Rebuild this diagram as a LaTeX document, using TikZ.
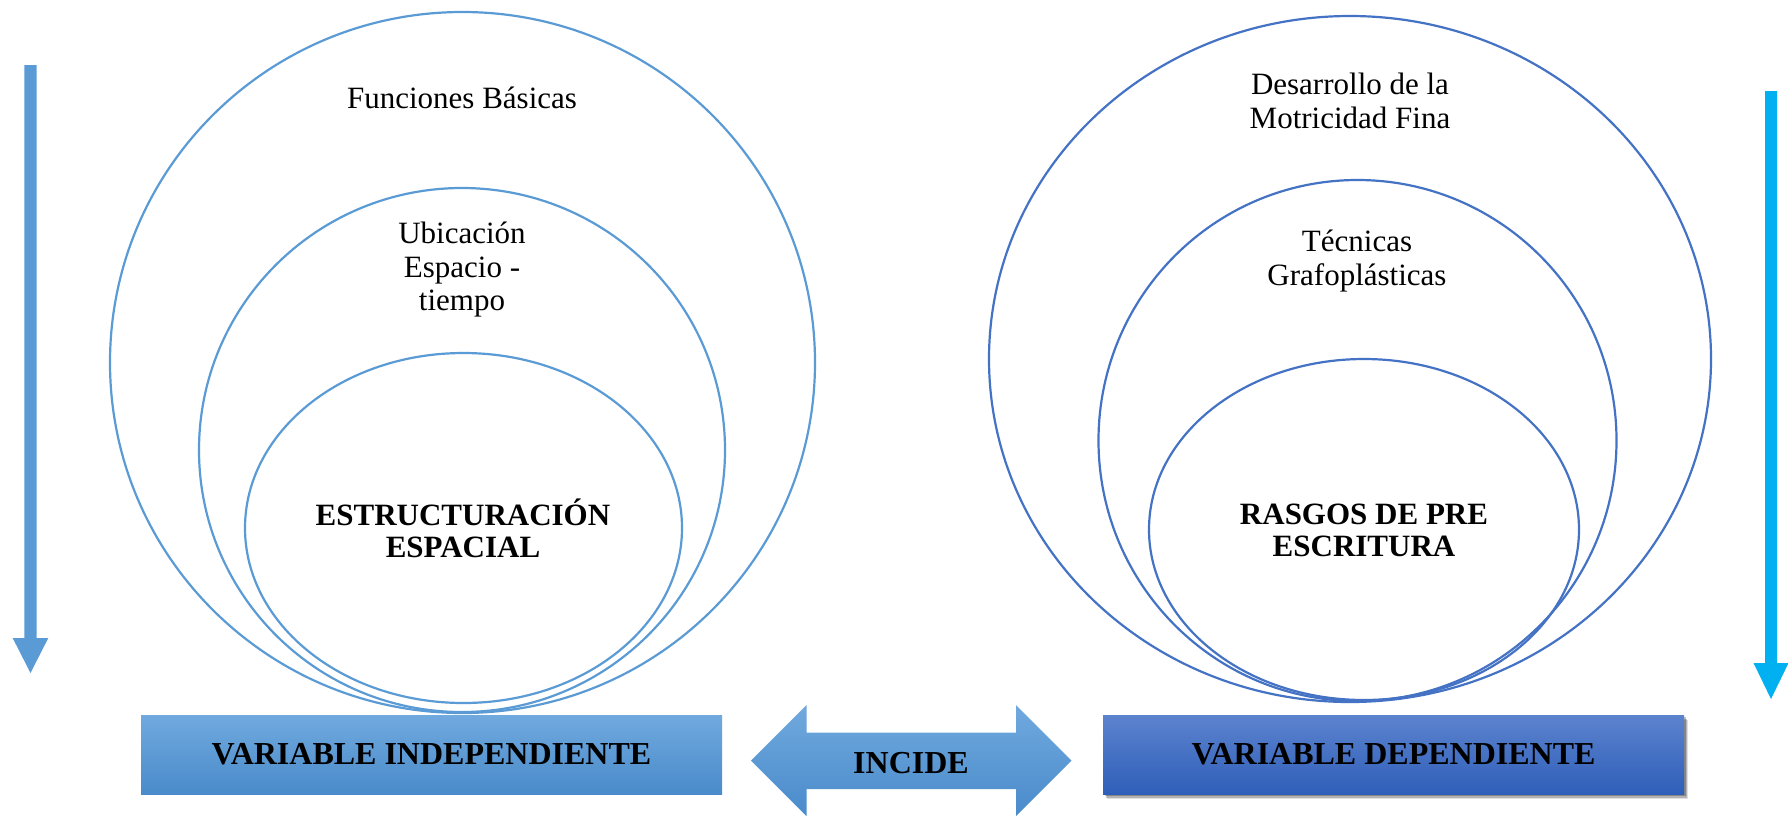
\documentclass[tikz,border=0pt]{standalone}
\usepackage{fontspec}
\setmainfont{Liberation Serif}
\usetikzlibrary{shapes.geometric,shadows}
\definecolor{lblue}{HTML}{5B9BD5}
\definecolor{rblue}{HTML}{4472C4}
\definecolor{cyanarrow}{HTML}{00B0F0}
\definecolor{ltop}{HTML}{70A9DE}
\definecolor{lbot}{HTML}{4A8BCB}
\definecolor{rtop}{HTML}{5C83CE}
\definecolor{rbot}{HTML}{2F5FB9}
\newcommand{\regtxt}{\fontsize{31}{33.5}\selectfont}
\newcommand{\boldtxt}{\fontsize{31}{32}\selectfont\bfseries}
\tikzset{
  lring/.style={ellipse, draw=lblue, line width=2.2pt, inner sep=0pt, outer sep=0pt},
  rring/.style={ellipse, draw=rblue, line width=2.2pt, inner sep=0pt, outer sep=0pt},
  ringtext/.style={align=center, inner sep=0pt, font=\regtxt},
  coretext/.style={align=center, inner sep=0pt, font=\boldtxt},
  varbox/.style={rectangle, inner sep=0pt, minimum width=581pt, minimum height=79pt, font=\fontsize{32}{34}\selectfont\bfseries},
  leftvar/.style={varbox, top color=ltop, bottom color=lbot},
  rightvar/.style={varbox, top color=rtop, bottom color=rbot,
    drop shadow={shadow xshift=4pt, shadow yshift=-5pt, opacity=0.12, fill=black},
    drop shadow={shadow xshift=3pt, shadow yshift=-3.5pt, opacity=0.2, fill=black},
    drop shadow={shadow xshift=2pt, shadow yshift=-2pt, opacity=0.25, fill=black}},
}
\begin{document}
\begin{tikzpicture}[x=1pt, y=-1pt]
\useasboundingbox (0,0) rectangle (1788,815);
\fill[white] (0,0) rectangle (1788,815);

% left nested circles
\node[lring, minimum width=705pt, minimum height=701pt] (lbig) at (462.5,362.5) {};
\node[lring, minimum width=526pt, minimum height=524pt] (lmid) at (462,450) {};
\node[lring, minimum width=437pt, minimum height=350pt] (linn) at (463.5,528) {};

% right nested circles
\node[rring, minimum width=722pt, minimum height=686pt] (rbig) at (1350,359) {};
\node[rring, minimum width=518pt, minimum height=521pt] (rmid) at (1357.5,440.5) {};
\node[rring, minimum width=430pt, minimum height=341pt] (rinn) at (1364,529.5) {};

% texts
\node[ringtext] (tfun) at (462,98) {Funciones Básicas};
\node[ringtext] (tubi) at (462,270) {Ubicación\\Espacio -\\tiempo};
\node[coretext] (test) at (463,528) {ESTRUCTURACIÓN\\ESPACIAL};
\node[ringtext] (tdes) at (1350,101) {Desarrollo de la\\Motricidad Fina};
\node[ringtext] (ttec) at (1357,261) {Técnicas\\Grafoplásticas};
\node[coretext] (tras) at (1364,530) {RASGOS DE PRE\\ESCRITURA};

% vertical arrows
\fill[lblue] (24.3,65) -- (36.7,65) -- (36.7,638) -- (48.3,638) -- (30.5,673)
  -- (12.7,638) -- (24.3,638) -- cycle;
\fill[cyanarrow] (1765,91) -- (1777,91) -- (1777,663) -- (1788.5,663) -- (1771,699)
  -- (1753.5,663) -- (1765,663) -- cycle;

% bottom boxes
\node[leftvar] (lvar) at (431.5,754.5) {VARIABLE INDEPENDIENTE};
\node[rightvar] (rvar) at (1393.5,754.5) {VARIABLE DEPENDIENTE};

% double arrow
\shade[top color=ltop, bottom color=lbot] (751,760.5) -- (806.5,705) -- (806.5,732.5)
  -- (1016,732.5) -- (1016,705) -- (1071.5,760.5) -- (1016,816) -- (1016,789)
  -- (806.5,789) -- (806.5,816) -- cycle;
\node[font=\fontsize{32}{34}\selectfont\bfseries, inner sep=0pt] (inc) at (911,763) {INCIDE};
\end{tikzpicture}
\end{document}
